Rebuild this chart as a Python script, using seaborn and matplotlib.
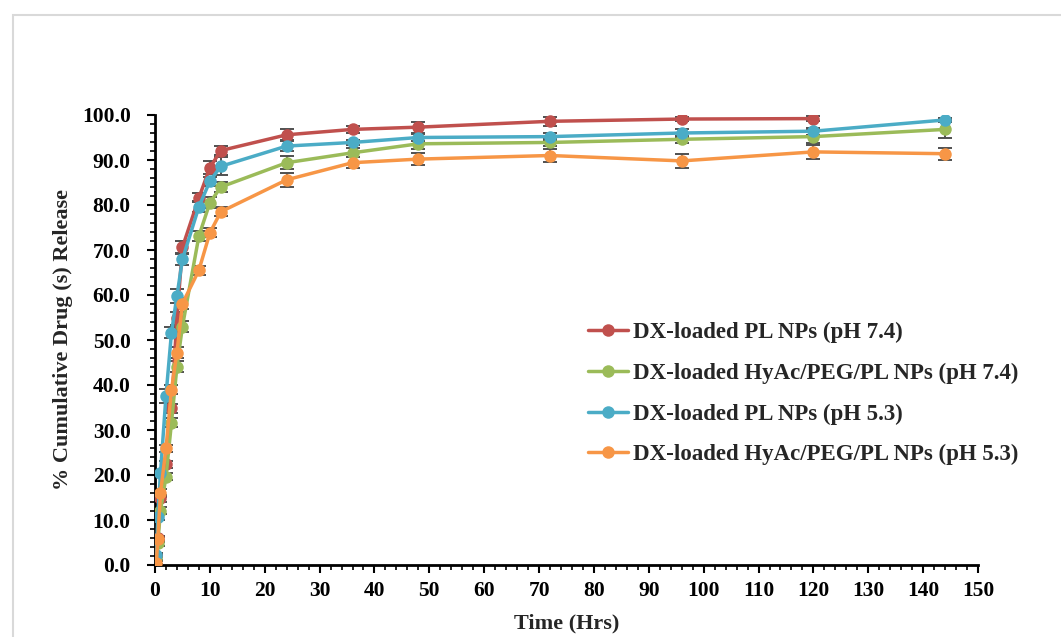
import numpy as np
import pandas as pd
import matplotlib
matplotlib.use("Agg")
import matplotlib.pyplot as plt
from matplotlib.patches import Rectangle
from matplotlib.ticker import MultipleLocator, FormatStrFormatter
import seaborn as sns

times = [0, 0.25, 0.5, 1, 2, 3, 4, 5, 8, 10, 12, 24, 36, 48, 72, 96, 120, 144]
series_names = [
    "DX-loaded PL NPs (pH 7.4)",
    "DX-loaded HyAc/PEG/PL NPs (pH 7.4)",
    "DX-loaded PL NPs (pH 5.3)",
    "DX-loaded HyAc/PEG/PL NPs (pH 5.3)",
]
pl_74 = [0, 2.0, 6.0, 14.8, 22.4, 34.8, 54.8, 70.6, 81.6, 88.3, 92.1, 95.6, 96.8, 97.3, 98.6, 99.1, 99.2, np.nan]
hy_74 = [0, 1.5, 4.8, 12.1, 19.6, 31.6, 44.1, 53.0, 73.1, 80.5, 84.0, 89.4, 91.6, 93.6, 93.9, 94.6, 95.2, 96.8]
pl_53 = [0, 2.2, 10.7, 20.4, 37.6, 51.6, 59.8, 67.9, 79.6, 85.3, 88.6, 93.1, 93.9, 95.0, 95.2, 96.0, 96.4, 98.9]
hy_53 = [0, 0.5, 5.7, 16.0, 25.9, 38.9, 47.2, 58.1, 65.5, 73.8, 78.5, 85.6, 89.4, 90.2, 91.0, 89.8, 91.8, 91.4]

err_pl_74 = [0, 0.3, 0.5, 0.8, 0.8, 1.0, 1.5, 1.3, 1.0, 1.5, 1.0, 1.2, 0.8, 1.2, 1.0, 0.5, 0.5, np.nan]
err_hy_74 = [0, 0.3, 0.5, 0.8, 0.8, 1.0, 1.2, 1.2, 1.2, 1.2, 1.2, 1.5, 1.0, 1.2, 0.8, 0.8, 1.5, 2.0]
err_pl_53 = [0, 0.5, 0.8, 0.8, 1.5, 1.2, 1.5, 1.2, 1.2, 1.0, 2.0, 1.2, 0.5, 0.8, 0.8, 0.8, 0.8, 0.5]
err_hy_53 = [0, 0.3, 0.5, 0.8, 0.8, 1.0, 1.2, 1.2, 1.0, 1.0, 1.0, 1.5, 1.2, 1.3, 1.5, 1.5, 1.5, 1.3]

colors = ["#C0504D", "#9BBB59", "#4BACC6", "#F79646"]

values = [pl_74, hy_74, pl_53, hy_53]
errors = [err_pl_74, err_hy_74, err_pl_53, err_hy_53]

frames = []
for name, v, e in zip(series_names, values, errors):
    frames.append(pd.DataFrame({"time": times, "release": v, "err": e, "series": name}))
df = pd.concat(frames, ignore_index=True).dropna()

sns.set_style("white")
plt.rcParams["font.family"] = ["Liberation Serif", "DejaVu Serif"]
plt.rcParams["font.weight"] = "bold"

fig = plt.figure(figsize=(10.61, 6.37), dpi=100)
fig.patches.append(Rectangle((13 / 1061, -0.05), 1.1, 1.05 - 15 / 637, transform=fig.transFigure,
                             fill=False, edgecolor="#d9d9d9", linewidth=1.5))
ax = fig.add_axes([155 / 1061, 1 - 565 / 637, (978 - 155) / 1061, (565 - 115) / 637])

for name, c in zip(series_names, colors):
    d = df[df["series"] == name]
    ax.errorbar(d["time"], d["release"], yerr=d["err"], fmt="none", ecolor="#505050",
                elinewidth=1.4, capsize=5, capthick=1.4, zorder=2)

sns.lineplot(data=df, x="time", y="release", hue="series", hue_order=series_names,
             palette=colors, marker="o", markersize=9, markeredgewidth=0,
             linewidth=2.5, ax=ax, zorder=3, legend=True)

ax.set_xlim(0, 150)
ax.set_ylim(0, 100)
ax.xaxis.set_major_locator(MultipleLocator(10))
ax.xaxis.set_minor_locator(MultipleLocator(2))
ax.yaxis.set_major_locator(MultipleLocator(10))
ax.yaxis.set_minor_locator(MultipleLocator(2))
ax.yaxis.set_major_formatter(FormatStrFormatter("%.1f"))
ax.tick_params(axis="both", which="major", direction="out", length=5.5, width=1.5,
               labelsize=15.5, colors="black", bottom=True, left=True)
ax.tick_params(axis="x", which="major", pad=6)
ax.tick_params(axis="y", which="major", pad=12)
ax.tick_params(axis="both", which="minor", direction="out", length=3.5, width=1.2,
               colors="black", bottom=True, left=True)
for lab in ax.get_xticklabels() + ax.get_yticklabels():
    lab.set_fontweight("bold")

sns.despine(ax=ax)
for s in ["left", "bottom"]:
    ax.spines[s].set_color("black")
    ax.spines[s].set_linewidth(2)

ax.set_xlabel("Time (Hrs)", fontsize=16, fontweight="bold", labelpad=9)
ax.set_ylabel("% Cumulative Drug (s) Release", fontsize=16, fontweight="bold", labelpad=6)

handles, labels = ax.get_legend_handles_labels()
ax.legend(handles, labels, loc="upper left", bbox_to_anchor=((579 - 155) / (978 - 155), (565 - 313) / 450),
          frameon=False, prop={"family": "Liberation Serif", "weight": "bold", "size": 16.5},
          handlelength=1.75, handletextpad=0.22, labelspacing=0.85, borderaxespad=0)

fig.savefig("out.png", dpi=100)
